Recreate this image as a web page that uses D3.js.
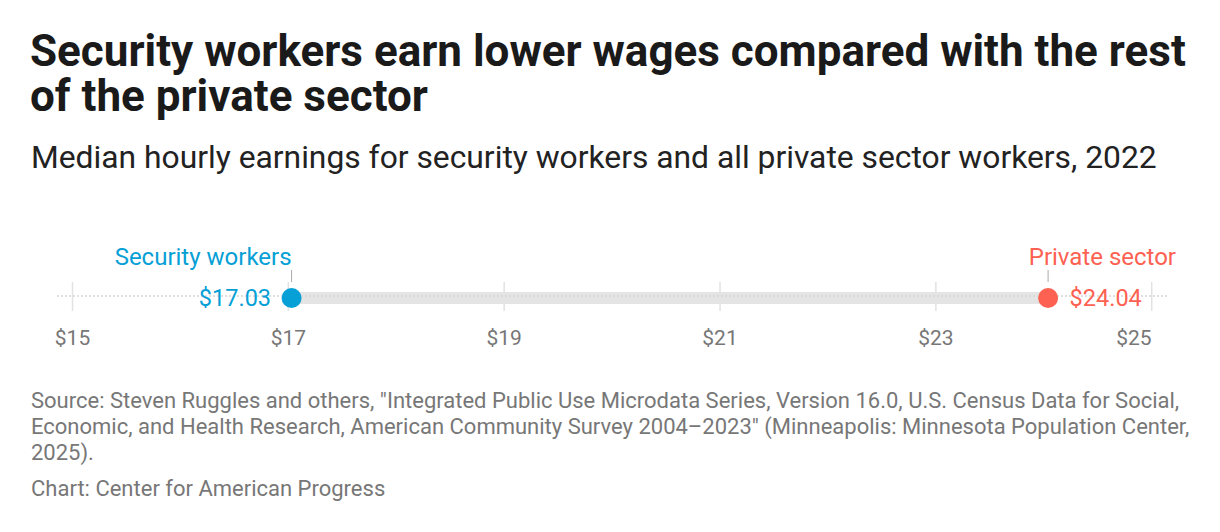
<!DOCTYPE html>
<html><head><meta charset="utf-8">
<script src="https://cdn.jsdelivr.net/npm/d3@7"></script>
<style>
body{margin:0;background:#fff;}
svg{display:block;font-family:Roboto,"Noto Sans",sans-serif;}
</style></head><body>
<div id="chart"></div>
<script>
const title = ["Security workers earn lower wages compared with the rest", "of the private sector"];
const subtitle = "Median hourly earnings for security workers and all private sector workers, 2022";
const footnote = ["Source: Steven Ruggles and others, \"Integrated Public Use Microdata Series, Version 16.0, U.S. Census Data for Social,",
  "Economic, and Health Research, American Community Survey 2004\u20132023\" (Minneapolis: Minnesota Population Center,",
  "2025)."];
const credit = "Chart: Center for American Progress";
const categories = ["Security workers", "Private sector"];
const values = [17.03, 24.04];
const valueLabels = ["$17.03", "$24.04"];
const colors = ["#06a0d6", "#fd6152"];
const tickValues = [15, 17, 19, 21, 23, 25];
const tickLabels = ["$15", "$17", "$19", "$21", "$23", "$25"];
const domain = [15, 25];

const W = 1220, H = 532;
const svg = d3.select("#chart").append("svg").attr("width", W).attr("height", H);

// title
const t = svg.append("text").attr("font-weight", 700).attr("font-size", 44).attr("fill", "#1a1a1a");
title.forEach((l, i) => t.append("tspan").attr("x", 30).attr("y", 66 + i * 45).text(l));
svg.append("text").attr("x", 31).attr("y", 168).attr("font-size", 31.8).attr("fill", "#222").text(subtitle);

const x = d3.scaleLinear().domain(domain).range([72.5, 1151.7]);
const cy = 298;

// gridlines
svg.append("g").selectAll("line").data(tickValues).join("line")
  .attr("x1", d => x(d)).attr("x2", d => x(d)).attr("y1", 282).attr("y2", 311)
  .attr("stroke", "#e2e2e2").attr("stroke-width", 1.5);

// range bar
svg.append("rect").attr("x", x(values[0])).attr("width", x(values[1]) - x(values[0]))
  .attr("y", cy - 6).attr("height", 12).attr("fill", "#e4e4e4");

// dotted baseline
svg.append("line").attr("x1", 57).attr("x2", 1168).attr("y1", 296).attr("y2", 296)
  .attr("stroke", "#d6d6d6").attr("stroke-width", 1.5).attr("stroke-dasharray", "2,2");

// tick labels
svg.append("g").selectAll("text").data(tickValues).join("text")
  .attr("x", d => x(d)).attr("y", 345)
  .attr("text-anchor", (d, i) => i === tickValues.length - 1 ? "end" : "middle")
  .attr("font-size", 21).attr("fill", "#777")
  .text((d, i) => tickLabels[i]);

// leaders
svg.append("g").selectAll("line").data(values).join("line")
  .attr("x1", d => x(d)).attr("x2", d => x(d)).attr("y1", 270).attr("y2", 282)
  .attr("stroke", "#aaa").attr("stroke-width", 1);

// dots
svg.append("g").selectAll("circle").data(values).join("circle")
  .attr("cx", d => x(d)).attr("cy", cy).attr("r", 10).attr("fill", (d, i) => colors[i]);

// category labels
svg.append("g").selectAll("text").data(values).join("text")
  .attr("x", (d, i) => i === 0 ? x(d) : 1176).attr("y", 265)
  .attr("text-anchor", "end").attr("font-size", 24).attr("fill", (d, i) => colors[i])
  .text((d, i) => categories[i]);

// value labels
svg.append("g").selectAll("text").data(values).join("text")
  .attr("x", (d, i) => i === 0 ? x(d) - 20.5 : x(d) + 21.5).attr("y", 306)
  .attr("text-anchor", (d, i) => i === 0 ? "end" : "start")
  .attr("font-size", 23.5).attr("fill", (d, i) => colors[i])
  .text((d, i) => valueLabels[i]);

// footnote
const f = svg.append("text").attr("font-size", 22).attr("fill", "#777");
footnote.forEach((l, i) => f.append("tspan").attr("x", 31).attr("y", 408 + i * 26).text(l));
svg.append("text").attr("x", 31).attr("y", 496).attr("font-size", 22).attr("fill", "#777").text(credit);
</script></body></html>
